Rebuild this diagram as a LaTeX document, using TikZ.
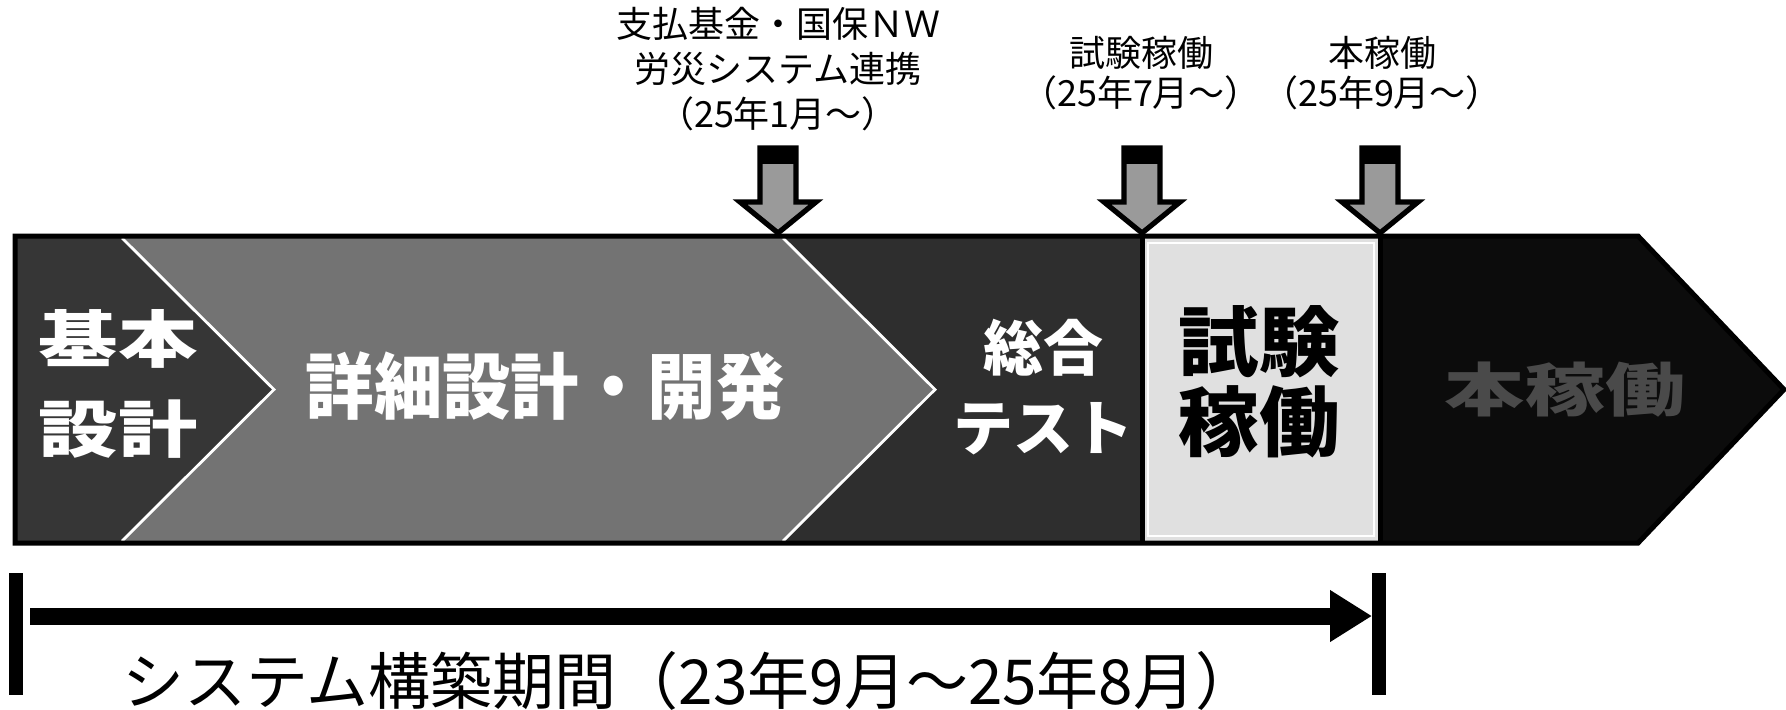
\documentclass[tikz,border=0pt]{standalone}
\usepackage{fontspec}
\usepackage{graphicx}
\setmainfont{Noto Sans CJK JP}
\usetikzlibrary{arrows.meta}
\definecolor{dk}{HTML}{363636}
\definecolor{mid}{HTML}{737373}
\definecolor{ttl}{HTML}{2E2E2E}
\definecolor{lt}{HTML}{E0E0E0}
\definecolor{blk}{HTML}{0C0C0C}
\definecolor{arrg}{HTML}{9A9A9A}
\definecolor{gtxt}{HTML}{4A4A4A}
\begin{document}
\begin{tikzpicture}[x=0.5pt,y=-0.5pt,
  lblA/.style={align=center,inner sep=0pt,font=\fontsize{18}{22.5}\selectfont},
  lblB/.style={align=center,inner sep=0pt,font=\fontsize{18}{20}\selectfont},
  bandtxt/.style={align=center,inner sep=0pt},
  edge/.style={white,line width=1.4pt},
  sep/.style={black,line width=2.5pt},
  bar/.style={fill=black,minimum width=7pt,minimum height=61pt,inner sep=0pt,draw=none},
  downarr/.pic={
    \fill[arrg,draw=black,line width=2.6pt,line join=miter]
      (-18,-89) -- (18,-89) -- (18,-35) -- (38,-35) -- (0,-4) -- (-38,-35) -- (-18,-35) -- cycle;
    \fill[black] (-19,-90) rectangle (19,-73);
  }]
\useasboundingbox (0,0) rectangle (1786,709);
\fill[white] (0,0) rectangle (1786,709);

% band
\fill[ttl] (17,237) rectangle (1142,542);
\fill[mid] (122,237) -- (783,237) -- (935,389.5) -- (783,542) -- (122,542) -- (274,389.5) -- cycle;
\draw[edge] (783,238) -- (935,389.5) -- (783,541);
\fill[dk] (17,237) -- (122,237) -- (274,389.5) -- (122,542) -- (17,542) -- cycle;
\draw[edge] (122,238) -- (274,389.5) -- (122,541);
\fill[lt] (1142,237) rectangle (1380,542);
\draw[white,line width=1.4pt] (1148,243) rectangle (1374,536);
\fill[blk] (1380,237) -- (1638,237) -- (1786,389.5) -- (1638,542) -- (1380,542) -- cycle;
\draw[black,line width=2.5pt,line join=miter] (15,236) -- (1638,236) -- (1784,389.5) -- (1638,543) -- (15,543) -- cycle;
\draw[sep] (1142,236) -- (1142,543);
\draw[sep] (1380,236) -- (1380,543);

% band texts
\node[bandtxt,white,font=\bfseries\fontsize{31}{45}\selectfont] (kihon) at (118,384)
  {\scalebox{1.28}[1]{基本}\\\scalebox{1.28}[1]{設計}};
\node[bandtxt,white,font=\bfseries\fontsize{36}{40}\selectfont] (shosai) at (545,386)
  {\scalebox{0.95}[1]{詳細設計・開発}};
\node[bandtxt,white,font=\bfseries\fontsize{30}{40}\selectfont] (sogo) at (1043,387)
  {総合\\テスト};
\node[bandtxt,black,font=\bfseries\fontsize{38}{40}\selectfont] (shiken) at (1259,382)
  {\scalebox{1.06}[1]{試験}\\\scalebox{1.06}[1]{稼働}};
\node[bandtxt,gtxt,font=\bfseries\fontsize{29}{36}\selectfont] (honkado) at (1565,390)
  {\scalebox{1.38}[1]{本稼働}};

% milestone arrows
\pic at (778,237) {downarr};
\pic at (1142,237) {downarr};
\pic at (1380,237) {downarr};

% milestone labels
\node[lblA] (m1) at (778,69) {支払基金・国保ＮＷ\\労災システム連携\\（25年1月～）};
\node[lblB] (m2) at (1141,73) {試験稼働\\（25年7月～）};
\node[lblB] (m3) at (1382,73) {本稼働\\（25年9月～）};

% timeline
\node[bar] (lbar) at (16,634) {};
\node[bar] (rbar) at (1379,634) {};
\coordinate (ts) at (30,616);
\coordinate (te) at (1372,616);
\draw[line width=8.5pt,-{Triangle[length=21pt,width=24.5pt]}] (ts) -- (te);
\node[inner sep=0pt,font=\fontsize{31}{36}\selectfont] (period) at (690,681)
  {\scalebox{1.0}[1]{システム構築期間（23年9月～25年8月）}};
\end{tikzpicture}
\end{document}
